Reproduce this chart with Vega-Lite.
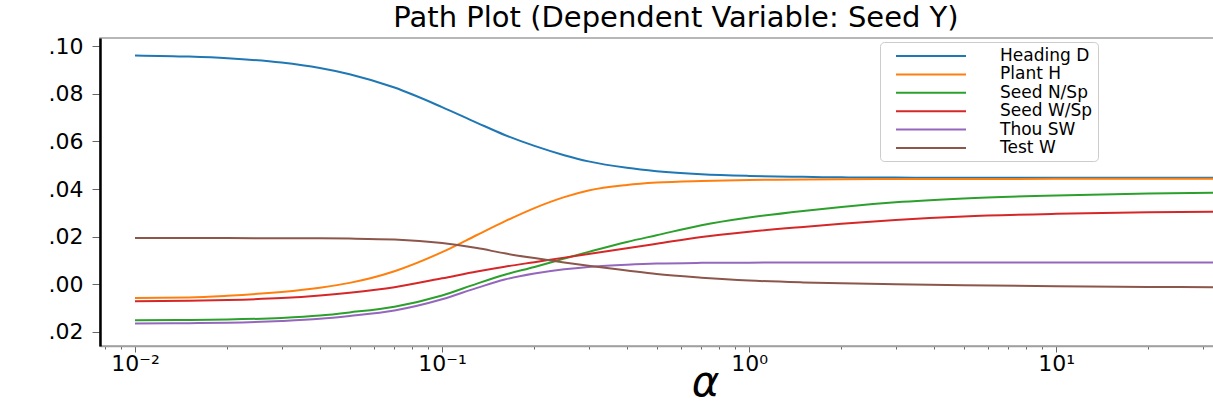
{
"$schema": "https://vega.github.io/schema/vega-lite/v6.json",
"width": 1120, "height": 308,
"autosize": {"type": "none"},
"padding": {"left": 100, "top": 38, "right": 0, "bottom": 59},
"background": "white",
"title": {"text": "Path Plot (Dependent Variable: Seed Y)", "font": "DejaVu Sans", "fontSize": 29, "fontWeight": "normal", "color": "black", "anchor": "middle", "offset": 2, "dx": 16},
"config": {"view": {"stroke": "#a0a0a0", "strokeWidth": 1.5}},
"data": {"values": [
{"a":0.01,"s":"Heading D","v":0.0961},{"a":0.015,"s":"Heading D","v":0.0956},{"a":0.02,"s":"Heading D","v":0.0949},{"a":0.03,"s":"Heading D","v":0.0931},{"a":0.04,"s":"Heading D","v":0.0908},{"a":0.05,"s":"Heading D","v":0.0882},{"a":0.07,"s":"Heading D","v":0.0826},{"a":0.1,"s":"Heading D","v":0.0744},{"a":0.13,"s":"Heading D","v":0.0678},{"a":0.16,"s":"Heading D","v":0.0627},{"a":0.2,"s":"Heading D","v":0.0581},{"a":0.25,"s":"Heading D","v":0.0542},{"a":0.3,"s":"Heading D","v":0.0516},{"a":0.4,"s":"Heading D","v":0.0489},{"a":0.5,"s":"Heading D","v":0.0475},{"a":0.7,"s":"Heading D","v":0.0462},{"a":1,"s":"Heading D","v":0.0455},{"a":1.5,"s":"Heading D","v":0.0451},{"a":2,"s":"Heading D","v":0.0449},{"a":3,"s":"Heading D","v":0.0448},{"a":5,"s":"Heading D","v":0.0447},{"a":10,"s":"Heading D","v":0.0447},{"a":20,"s":"Heading D","v":0.0447},{"a":34,"s":"Heading D","v":0.0447},
{"a":0.01,"s":"Plant H","v":-0.0057},{"a":0.015,"s":"Plant H","v":-0.0055},{"a":0.02,"s":"Plant H","v":-0.0048},{"a":0.03,"s":"Plant H","v":-0.0032},{"a":0.04,"s":"Plant H","v":-0.0014},{"a":0.05,"s":"Plant H","v":0.0006},{"a":0.07,"s":"Plant H","v":0.0055},{"a":0.1,"s":"Plant H","v":0.0135},{"a":0.13,"s":"Plant H","v":0.0207},{"a":0.16,"s":"Plant H","v":0.0264},{"a":0.2,"s":"Plant H","v":0.0320},{"a":0.25,"s":"Plant H","v":0.0366},{"a":0.3,"s":"Plant H","v":0.0394},{"a":0.4,"s":"Plant H","v":0.0417},{"a":0.5,"s":"Plant H","v":0.0427},{"a":0.7,"s":"Plant H","v":0.0434},{"a":1,"s":"Plant H","v":0.0438},{"a":1.5,"s":"Plant H","v":0.0440},{"a":2,"s":"Plant H","v":0.0441},{"a":3,"s":"Plant H","v":0.0442},{"a":5,"s":"Plant H","v":0.0442},{"a":10,"s":"Plant H","v":0.0443},{"a":20,"s":"Plant H","v":0.0443},{"a":34,"s":"Plant H","v":0.0443},
{"a":0.01,"s":"Seed N/Sp","v":-0.0151},{"a":0.015,"s":"Seed N/Sp","v":-0.0150},{"a":0.02,"s":"Seed N/Sp","v":-0.0148},{"a":0.03,"s":"Seed N/Sp","v":-0.0141},{"a":0.04,"s":"Seed N/Sp","v":-0.0131},{"a":0.05,"s":"Seed N/Sp","v":-0.0118},{"a":0.07,"s":"Seed N/Sp","v":-0.0094},{"a":0.1,"s":"Seed N/Sp","v":-0.0047},{"a":0.13,"s":"Seed N/Sp","v":0.0003},{"a":0.16,"s":"Seed N/Sp","v":0.0040},{"a":0.2,"s":"Seed N/Sp","v":0.0073},{"a":0.25,"s":"Seed N/Sp","v":0.0108},{"a":0.3,"s":"Seed N/Sp","v":0.0136},{"a":0.4,"s":"Seed N/Sp","v":0.0178},{"a":0.5,"s":"Seed N/Sp","v":0.0206},{"a":0.7,"s":"Seed N/Sp","v":0.0248},{"a":1,"s":"Seed N/Sp","v":0.0280},{"a":1.5,"s":"Seed N/Sp","v":0.0308},{"a":2,"s":"Seed N/Sp","v":0.0325},{"a":3,"s":"Seed N/Sp","v":0.0344},{"a":5,"s":"Seed N/Sp","v":0.0360},{"a":10,"s":"Seed N/Sp","v":0.0373},{"a":20,"s":"Seed N/Sp","v":0.0381},{"a":34,"s":"Seed N/Sp","v":0.0385},
{"a":0.01,"s":"Seed W/Sp","v":-0.0071},{"a":0.015,"s":"Seed W/Sp","v":-0.0069},{"a":0.02,"s":"Seed W/Sp","v":-0.0066},{"a":0.03,"s":"Seed W/Sp","v":-0.0058},{"a":0.04,"s":"Seed W/Sp","v":-0.0047},{"a":0.05,"s":"Seed W/Sp","v":-0.0035},{"a":0.07,"s":"Seed W/Sp","v":-0.0012},{"a":0.1,"s":"Seed W/Sp","v":0.0025},{"a":0.13,"s":"Seed W/Sp","v":0.0054},{"a":0.16,"s":"Seed W/Sp","v":0.0074},{"a":0.2,"s":"Seed W/Sp","v":0.0093},{"a":0.25,"s":"Seed W/Sp","v":0.0112},{"a":0.3,"s":"Seed W/Sp","v":0.0127},{"a":0.4,"s":"Seed W/Sp","v":0.0151},{"a":0.5,"s":"Seed W/Sp","v":0.0170},{"a":0.7,"s":"Seed W/Sp","v":0.0199},{"a":1,"s":"Seed W/Sp","v":0.0221},{"a":1.5,"s":"Seed W/Sp","v":0.0241},{"a":2,"s":"Seed W/Sp","v":0.0254},{"a":3,"s":"Seed W/Sp","v":0.0270},{"a":5,"s":"Seed W/Sp","v":0.0285},{"a":10,"s":"Seed W/Sp","v":0.0296},{"a":20,"s":"Seed W/Sp","v":0.0302},{"a":34,"s":"Seed W/Sp","v":0.0305},
{"a":0.01,"s":"Thou SW","v":-0.0165},{"a":0.015,"s":"Thou SW","v":-0.0163},{"a":0.02,"s":"Thou SW","v":-0.0161},{"a":0.03,"s":"Thou SW","v":-0.0154},{"a":0.04,"s":"Thou SW","v":-0.0145},{"a":0.05,"s":"Thou SW","v":-0.0133},{"a":0.07,"s":"Thou SW","v":-0.0110},{"a":0.1,"s":"Thou SW","v":-0.0063},{"a":0.13,"s":"Thou SW","v":-0.0015},{"a":0.16,"s":"Thou SW","v":0.0020},{"a":0.2,"s":"Thou SW","v":0.0045},{"a":0.25,"s":"Thou SW","v":0.0063},{"a":0.3,"s":"Thou SW","v":0.0073},{"a":0.4,"s":"Thou SW","v":0.0082},{"a":0.5,"s":"Thou SW","v":0.0087},{"a":0.7,"s":"Thou SW","v":0.0090},{"a":1,"s":"Thou SW","v":0.0091},{"a":1.5,"s":"Thou SW","v":0.0092},{"a":2,"s":"Thou SW","v":0.0092},{"a":3,"s":"Thou SW","v":0.0092},{"a":5,"s":"Thou SW","v":0.0092},{"a":10,"s":"Thou SW","v":0.0092},{"a":20,"s":"Thou SW","v":0.0092},{"a":34,"s":"Thou SW","v":0.0092},
{"a":0.01,"s":"Test W","v":0.0194},{"a":0.015,"s":"Test W","v":0.0194},{"a":0.02,"s":"Test W","v":0.0194},{"a":0.03,"s":"Test W","v":0.0193},{"a":0.04,"s":"Test W","v":0.0193},{"a":0.05,"s":"Test W","v":0.0192},{"a":0.07,"s":"Test W","v":0.0188},{"a":0.1,"s":"Test W","v":0.0173},{"a":0.13,"s":"Test W","v":0.0152},{"a":0.16,"s":"Test W","v":0.0130},{"a":0.2,"s":"Test W","v":0.0110},{"a":0.25,"s":"Test W","v":0.0092},{"a":0.3,"s":"Test W","v":0.0078},{"a":0.4,"s":"Test W","v":0.0058},{"a":0.5,"s":"Test W","v":0.0043},{"a":0.7,"s":"Test W","v":0.0028},{"a":1,"s":"Test W","v":0.0016},{"a":1.5,"s":"Test W","v":0.0008},{"a":2,"s":"Test W","v":0.0004},{"a":3,"s":"Test W","v":0.0000},{"a":5,"s":"Test W","v":-0.0004},{"a":10,"s":"Test W","v":-0.0008},{"a":20,"s":"Test W","v":-0.0011},{"a":34,"s":"Test W","v":-0.0012}
]},
"mark": {"type": "line", "strokeWidth": 2, "interpolate": "monotone", "clip": true},
"encoding": {
  "x": {"field": "a", "type": "quantitative",
    "scale": {"type": "log", "domain": [0.00769, 34.2], "nice": false},
    "axis": {"values": [0.008,0.009,0.01,0.02,0.03,0.04,0.05,0.06,0.07,0.08,0.09,0.1,0.2,0.3,0.4,0.5,0.6,0.7,0.8,0.9,1,2,3,4,5,6,7,8,9,10,20,30],
      "labelExpr": "datum.value == 0.01 ? '10⁻²' : datum.value == 0.1 ? '10⁻¹' : datum.value == 1 ? '10⁰' : datum.value == 10 ? '10¹' : ''",
      "labelOverlap": false, "labelFlush": false, "grid": false,
      "title": "α", "titleFont": "DejaVu Sans", "titleFontStyle": "italic", "titleFontWeight": "normal", "titleFontSize": 42, "titlePadding": -12, "titleColor": "black", "titleX": 605,
      "labelFont": "DejaVu Sans", "labelFontSize": 22, "labelColor": "black", "labelPadding": 1,
      "domainColor": "#a0a0a0", "domainWidth": 1.5, "tickColor": "#666",
      "tickSize": {"condition": {"test": "datum.value == 0.01 || datum.value == 0.1 || datum.value == 1 || datum.value == 10", "value": 6}, "value": 3}}},
  "y": {"field": "v", "type": "quantitative",
    "scale": {"domain": [-0.0259, 0.1034], "nice": false, "zero": false},
    "axis": {"values": [-0.02,0,0.02,0.04,0.06,0.08,0.1],
      "labelExpr": "replace(replace(replace(format(datum.value, '.2f'), '\u22120.', '.'), '-0.', '.'), '0.', '.')",
      "title": null, "grid": false, "domainColor": "black", "domainWidth": 2.5,
      "tickColor": "#666", "tickSize": 8, "labelFont": "DejaVu Sans", "labelFontSize": 22, "labelColor": "black", "labelPadding": 9}},
  "color": {"field": "s", "type": "nominal",
    "scale": {"domain": ["Heading D","Plant H","Seed N/Sp","Seed W/Sp","Thou SW","Test W"], "range": ["#1f77b4","#ff7f0e","#2ca02c","#d62728","#9467bd","#8c564b"]},
    "legend": {"orient": "none", "legendX": 780, "legendY": 4, "direction": "vertical", "title": null,
      "symbolType": "M0.25,0H9", "symbolSize": 256, "symbolStrokeWidth": 2,
      "labelFont": "DejaVu Sans", "labelFontSize": 17, "labelColor": "black", "labelOffset": 97, "labelLimit": 300,
      "rowPadding": 1.4, "padding": 5, "strokeColor": "#cccccc", "fillColor": "rgba(255,255,255,0.8)", "cornerRadius": 4}}
}
}
